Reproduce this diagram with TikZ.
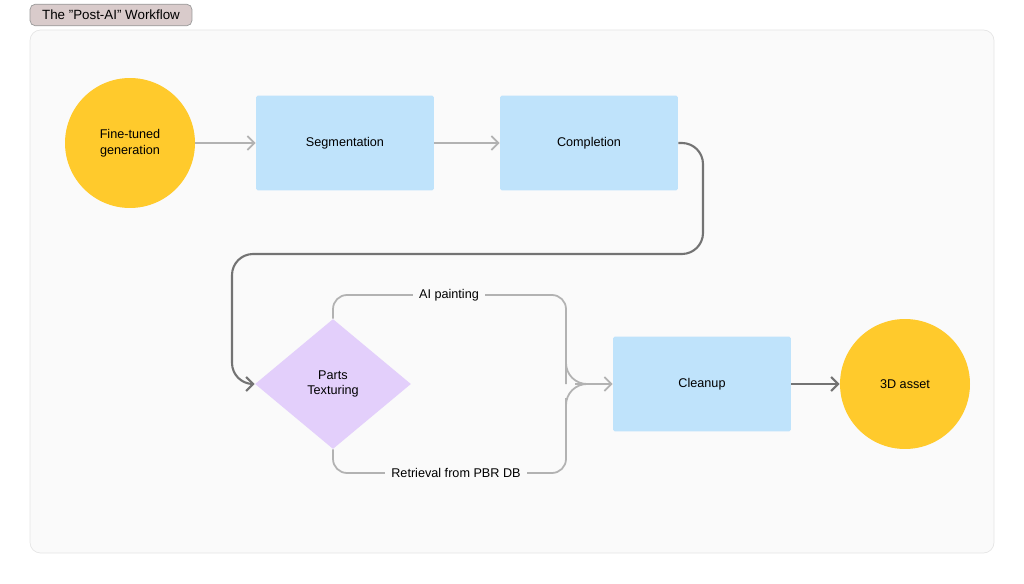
\documentclass[tikz,border=0pt]{standalone}
\usepackage{fontspec}
\setmainfont{Liberation Sans}
\usetikzlibrary{shapes.geometric,arrows.meta}
\definecolor{sunny}{HTML}{FFCA2C}
\definecolor{skyblue}{HTML}{BFE3FB}
\definecolor{lilac}{HTML}{E3CFFB}
\definecolor{tagpink}{HTML}{D9CBCB}
\tikzset{
  box/.style={rectangle, fill=skyblue, minimum width=3.56cm, minimum height=1.9cm, rounded corners=1pt, font=\fontsize{7.2}{9}\selectfont, align=center},
  disc/.style={circle, fill=sunny, minimum size=2.6cm, font=\fontsize{7.2}{9}\selectfont, align=center},
  light/.style={draw=black!30, line width=1pt, -{Straight Barb[length=4pt,width=8pt]}},
  dark/.style={draw=black!55, line width=1.2pt, -{Straight Barb[length=4pt,width=8pt]}},
  branch/.style={draw=black!30, line width=1pt, rounded corners=8pt}
}
\begin{document}
\begin{tikzpicture}[x=0.02cm,y=-0.02cm]
\useasboundingbox (0,0) rectangle (1024,584);
% panel and title
\draw[fill=black!2, draw=black!10, rounded corners=6pt] (30,30) rectangle (994,553);
\node[fill=tagpink, draw=black!40, rounded corners=3pt, minimum width=3.24cm, minimum height=0.4cm, font=\fontsize{7.6}{9}\selectfont] (title) at (111,15) {The "Post-AI" Workflow};

% first row
\node[disc] (gen) at (130,143) {Fine-tuned\\generation};
\node[box] (seg) at (345,143) {Segmentation};
\node[box] (comp) at (589,143) {Completion};
\draw[light] (gen) -- (seg);
\draw[light] (seg) -- (comp);

% second row
\node[diamond, fill=lilac, minimum width=3.12cm, minimum height=2.6cm, font=\fontsize{7.2}{9}\selectfont, align=center] (tex) at (333,384) {Parts\\Texturing};
\node[box] (clean) at (702,384) {Cleanup};
\node[disc] (asset) at (905,384) {3D asset};
\draw[dark, rounded corners=12pt] (comp.east) -| (703,254) -| (232,384) -- (tex.west);
\draw[dark] (clean) -- (asset);

% branches
\coordinate (merge) at (566,384);
\draw[branch] (tex.north) |- (566,295) -- (566,370) to[out=90,in=180,looseness=0] (merge);
\draw[branch] (tex.south) |- (566,473) -- (566,398);
\draw[draw=black!30, line width=1pt, rounded corners=12pt] (566,340) |- (580,384);
\draw[draw=black!30, line width=1pt, rounded corners=12pt] (566,430) |- (580,384);
\draw[light] (575,384) -- (clean.west);
\node[fill=black!2, font=\fontsize{7.2}{9}\selectfont] (paint) at (449,295) {AI painting};
\node[fill=black!2, font=\fontsize{7.2}{9}\selectfont] (pbr) at (456,473) {Retrieval from PBR DB};
\end{tikzpicture}
\end{document}
